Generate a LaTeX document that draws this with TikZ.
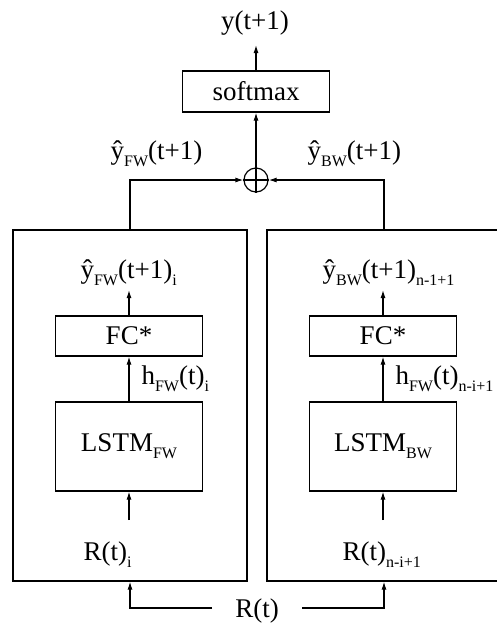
\documentclass[tikz,border=0pt]{standalone}
\usepackage{fontspec}
\setmainfont{Liberation Serif}
\usetikzlibrary{arrows.meta}
\newcommand\sbs[1]{\raisebox{-7pt}{\fontsize{16}{16}\selectfont #1}}
\begin{document}
\begin{tikzpicture}[x=1pt,y=-1pt, line width=1.2pt,
  lbl/.style={inner sep=0pt, font=\fontsize{27}{30}\selectfont},
  box/.style={draw, rectangle, inner sep=0pt, lbl},
  arr/.style={-{Latex[length=8pt,width=5pt]}}]
\useasboundingbox (0,0) rectangle (497,625);
\clip (0,0) rectangle (497,625);
% top
\node[lbl, anchor=base] (yout) at (255,29) {y(t+1)};
\coordinate (ytip) at (256,45);
\node[box, minimum width=147pt, minimum height=41pt] (soft) at (256,91.5) {softmax};
\node[draw, circle, minimum size=24pt, inner sep=0pt] (plus) at (256,180) {};
\draw (plus.north) -- (plus.south) (plus.west) -- (plus.east);
\draw[arr] (soft.north) -- (ytip);
\draw[arr] (plus.north) -- (soft.south);
\node[lbl, anchor=base east] (yfw) at (203,159) {ŷ\sbs{FW}(t+1)};
\node[lbl, anchor=base west] (ybw) at (307,159) {ŷ\sbs{BW}(t+1)};
% big boxes
\node[draw, rectangle, minimum width=234pt, minimum height=351pt, inner sep=0pt] (L) at (130,405.5) {};
\node[draw, rectangle, minimum width=234pt, minimum height=351pt, inner sep=0pt] (R) at (384,405.5) {};
\draw[arr] (L.north) |- (plus.west);
\draw[arr] (R.north) |- (plus.east);
% left column
\node[lbl, anchor=base west] (oL) at (80,278) {ŷ\sbs{FW}(t+1)\sbs{i}};
\coordinate (oLt) at (129,290);
\node[box, minimum width=147pt, minimum height=40pt] (fcL) at (129,336) {FC*};
\node[lbl, anchor=base west] (hL) at (141,384) {h\sbs{FW}(t)\sbs{i}};
\node[box, minimum width=147pt, minimum height=89pt] (lsL) at (129,446.5) {LSTM\sbs{FW}};
\coordinate (iL) at (129,520);
\node[lbl, anchor=base west] (rL) at (83,560) {R(t)\sbs{i}};
\draw[arr] (fcL.north) -- (oLt);
\draw[arr] (lsL.north) -- (fcL.south);
\draw[arr] (iL) -- (lsL.south);
% right column
\node[lbl, anchor=base west] (oR) at (322,278) {ŷ\sbs{BW}(t+1)\sbs{n-1+1}};
\coordinate (oRt) at (383,290);
\node[box, minimum width=147pt, minimum height=40pt] (fcR) at (383,336) {FC*};
\node[lbl, anchor=base west] (hR) at (395,384) {h\sbs{FW}(t)\sbs{n-i+1}};
\node[box, minimum width=147pt, minimum height=89pt] (lsR) at (383,446.5) {LSTM\sbs{BW}};
\coordinate (iR) at (383,520);
\node[lbl, anchor=base west] (rR) at (342,560) {R(t)\sbs{n-i+1}};
\draw[arr] (fcR.north) -- (oRt);
\draw[arr] (lsR.north) -- (fcR.south);
\draw[arr] (iR) -- (lsR.south);
% bottom input
\node[lbl, anchor=base] (rt) at (257,617) {R(t)};
\coordinate (rl) at (212,608);
\coordinate (rr) at (302,608);
\draw[arr] (rl) -| (L.south);
\draw[arr] (rr) -| (R.south);
\end{tikzpicture}
\end{document}
